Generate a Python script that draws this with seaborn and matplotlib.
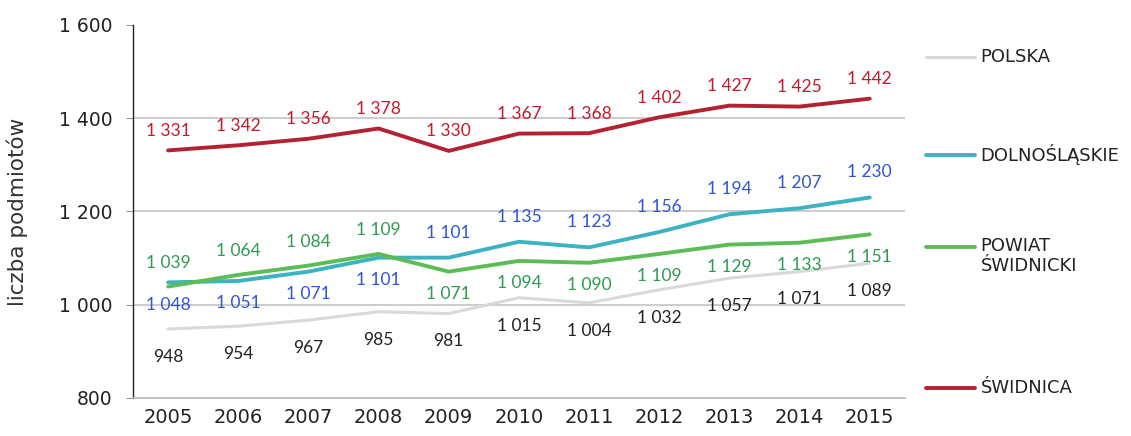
import pandas as pd
import matplotlib.pyplot as plt
import seaborn as sns
from matplotlib.lines import Line2D
from matplotlib.ticker import FuncFormatter, FixedLocator

# Style
sns.set_style("white")
plt.rcParams['font.family'] = ['DejaVu Sans']

# Data
years = [2005, 2006, 2007, 2008, 2009, 2010, 2011, 2012, 2013, 2014, 2015]
polska = [948, 954, 967, 985, 981, 1015, 1004, 1032, 1057, 1071, 1089]
dolnoslaskie = [1048, 1051, 1071, 1101, 1101, 1135, 1123, 1156, 1194, 1207, 1230]
powiat = [1039, 1064, 1084, 1109, 1071, 1094, 1090, 1109, 1129, 1133, 1151]
swidnica = [1331, 1342, 1356, 1378, 1330, 1367, 1368, 1402, 1427, 1425, 1442]

series_names = ["POLSKA", "DOLNOŚLĄSKIE", "POWIAT\nŚWIDNICKI", "ŚWIDNICA"]
series_values = [polska, dolnoslaskie, powiat, swidnica]

df = pd.concat([
    pd.DataFrame({"rok": years, "wartosc": vals, "seria": name})
    for name, vals in zip(series_names, series_values)
])

line_colors = {
    "POLSKA": "#d9d9d9",
    "DOLNOŚLĄSKIE": "#3db3c2",
    "POWIAT\nŚWIDNICKI": "#5cbd57",
    "ŚWIDNICA": "#b22231",
}
label_colors = {
    "POLSKA": "#222222",
    "DOLNOŚLĄSKIE": "#2f55d4",
    "POWIAT\nŚWIDNICKI": "#2e9a52",
    "ŚWIDNICA": "#c41a30",
}
widths = {"POLSKA": 2.2, "DOLNOŚLĄSKIE": 2.8, "POWIAT\nŚWIDNICKI": 2.8, "ŚWIDNICA": 2.8}


def fmt(v):
    return f"{v:,.0f}".replace(",", " ")


fig = plt.figure(figsize=(11.31, 4.36), dpi=100)
ax = fig.add_axes([0.1176, 0.0872, 0.6824, 0.8555])

for name in series_names:
    sub = df[df["seria"] == name]
    sns.lineplot(data=sub, x="rok", y="wartosc", color=line_colors[name],
                 linewidth=widths[name], ax=ax, legend=False)

# Data labels
for name in series_names:
    sub = df[df["seria"] == name]
    for x, y in zip(sub["rok"], sub["wartosc"]):
        if name == "ŚWIDNICA":
            dy = 14
        elif name == "POLSKA":
            dy = -20
        elif name == "DOLNOŚLĄSKIE":
            dy = -16 if x < 2009 else 18
        else:
            dy = 17 if x < 2009 else -16
        ax.annotate(fmt(y), (x, y), xytext=(0, dy), textcoords="offset points",
                    ha="center", va="center", fontsize=12.5,
                    color=label_colors[name], family="Lato")

# Axes
ax.set_xlim(2004.5, 2015.5)
ax.set_ylim(800, 1600)
ax.set_xticks(years)
ax.set_xticklabels([str(y) for y in years], fontsize=14, color="#222222")
ax.xaxis.set_minor_locator(FixedLocator([y - 0.5 for y in years] + [2015.5]))
ax.tick_params(axis="x", which="major", length=0, pad=7)
ax.tick_params(axis="x", which="minor", length=4, color="#999999", direction="out")
ax.set_yticks([800, 1000, 1200, 1400, 1600])
ax.yaxis.set_major_formatter(FuncFormatter(lambda v, p: fmt(v)))
ax.tick_params(axis="y", labelsize=13.5, labelcolor="#222222", length=5,
               color="#999999", left=True, pad=10)
ax.set_ylabel("liczba podmiotów", fontsize=15.5, color="#333333", labelpad=22)
ax.set_xlabel("")

ax.grid(axis="y", color="#c4c4c4", linewidth=1.2)
ax.grid(axis="x", visible=False)
ax.yaxis.get_gridlines()[-1].set_visible(False)
for side in ["top", "right"]:
    ax.spines[side].set_visible(False)
ax.spines["left"].set_color("#222222")
ax.spines["left"].set_linewidth(1.0)
ax.spines["bottom"].set_color("#bbbbbb")
ax.spines["bottom"].set_linewidth(1.2)

# Legend placed beside the plot
legend_y = [0.869, 0.6445, 0.4335, 0.110]
for name, ly in zip(series_names, legend_y):
    fig.add_artist(Line2D([0.8187, 0.862], [ly, ly], transform=fig.transFigure,
                          color=line_colors[name], linewidth=widths[name]))
    two_lines = "\n" in name
    fig.text(0.867, ly + 0.024 if two_lines else ly, name,
             va="top" if two_lines else "center",
             ha="left", fontsize=13, color="#222222", linespacing=1.15)

plt.savefig("out.png", dpi=100)
plt.close()
